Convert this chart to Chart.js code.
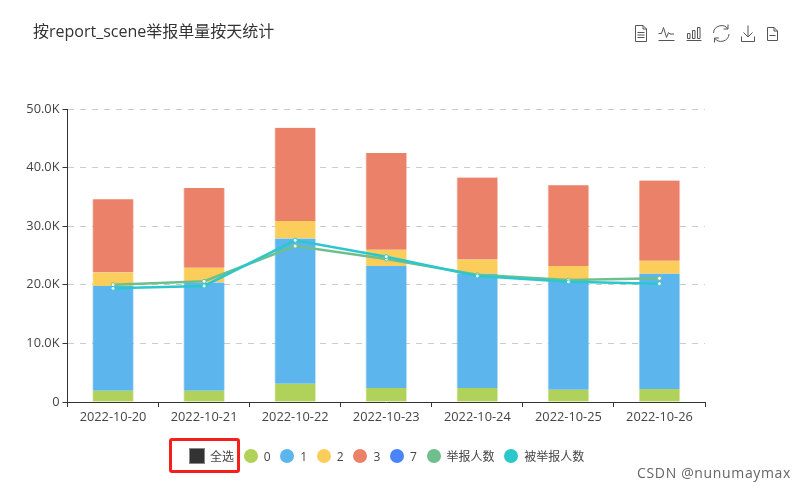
<!DOCTYPE html>
<html>
<head>
<meta charset="utf-8">
<title>按report_scene举报单量按天统计</title>
<script src="https://cdn.jsdelivr.net/npm/chart.js@4"></script>
<style>
  html, body { margin: 0; padding: 0; background: #fff; }
  body { width: 807px; height: 491px; position: relative; overflow: hidden; font-family: "Open Sans", "Noto Sans CJK SC", sans-serif; }
  #chart { position: absolute; left: 0; top: 0; }
  .title { position: absolute; left: 33px; top: 20px; font-size: 16px; line-height: 22px; color: #333; }
  .tools { position: absolute; left: 0; top: 0; }
  .legend { position: absolute; left: 189px; top: 447px; height: 18px; display: flex; align-items: center; font-size: 12px; color: #444; white-space: nowrap; }
  .legend .item { display: flex; align-items: center; margin-right: 9.7px; }
  .legend .dot { width: 14px; height: 14px; border-radius: 50%; margin-right: 6px; }
  .legend .all { width: 14px; height: 14px; background: #333; border: 1px solid #888; margin-right: 5px; }
  .redbox { position: absolute; left: 169px; top: 438px; width: 65px; height: 29px; border: 3px solid #f5201c; border-radius: 3px; }
  .mark { position: absolute; right: 16px; top: 464px; font-size: 14px; line-height: 18px; color: #666; letter-spacing: .65px; }
</style>
</head>
<body>
<canvas id="chart" width="807" height="491"></canvas>
<div class="title">按report_scene举报单量按天统计</div>

<!-- toolbox icons -->
<svg class="tools" width="807" height="60" fill="none" stroke="#555" stroke-width="1">
  <path d="M635.5 25.500h7.500l3.500 3.500v12.500h-11z M643 25.500v3.500h3.500 M637.500 32.500h7 M637.500 35h7 M637.500 37.500h7"/>
  <path d="M658.500 33.500h3l2-6 3 10 2-5 1.500 1.500h4 M658.500 40.500h16"/>
  <path d="M686.500 40.500h15 M687.500 38.500v-5h2.500v5z M692.500 38.500v-8h2.500v8z M697.500 38.500v-11h2.500v11z"/>
  <path d="M713.500 33a8 8 0 0 1 14.500 -4 M729 34a8 8 0 0 1 -14.500 4 M728 24.500v4.500h-4.500 M714.500 42.500v-4.500h4.500"/>
  <path d="M748 25.500v11.500 M743.500 32.500l4.500 4.500 4.500 -4.500 M741.500 36.500v5h13v-5"/>
  <path d="M767.500 27.500h6.500l3.500 3.500v9.500h-10z M774 27.500v3.500h3.500 M769.500 35.500h6"/>
</svg>

<div class="legend" id="legend"></div>
<div class="redbox"></div>
<div class="mark">CSDN @nunumaymax</div>

<script>
const days = ['2022-10-20','2022-10-21','2022-10-22','2022-10-23','2022-10-24','2022-10-25','2022-10-26'];

// stacked bars, by report_scene
const scene0 = [1900, 1900, 3100, 2400, 2400, 2100, 2200];
const scene1 = [17900, 18500, 24800, 20800, 19500, 18800, 19700];
const scene2 = [2300, 2500, 3000, 2800, 2400, 2300, 2200];
const scene3 = [12500, 13600, 15900, 16500, 14000, 13800, 13700];
const scene7 = [];

// lines
const reporters = [20000, 20600, 26600, 24400, 21700, 20800, 21100];
const reported = [19400, 19800, 27600, 24800, 21500, 20500, 20200];

const bar = (label, data, color) => ({
  type: 'bar', label, data, stack: 'scene', order: 3,
  backgroundColor: color, borderColor: color + '66',
  borderWidth: { left: 1, right: 1 }, barThickness: 41
});
const line = (label, data, color, order) => ({
  type: 'line', label, data, stack: label, order,
  borderColor: color, borderWidth: 2.5, tension: 0,
  pointRadius: 2, pointBorderWidth: 1,
  pointBackgroundColor: '#fff', pointBorderColor: color
});

const datasets = [
  bar('0', scene0, '#b0d25a'),
  bar('1', scene1, '#5cb5ec'),
  bar('2', scene2, '#fbcd5b'),
  bar('3', scene3, '#ec8169'),
  bar('7', scene7, '#4b84f8'),
  line('举报人数', reporters, '#6fbf8e', 2),
  line('被举报人数', reported, '#2cc7cc', 1)
];

const font = { family: '"Open Sans", "Noto Sans CJK SC", sans-serif', size: 12.8 };

new Chart(document.getElementById('chart'), {
  data: { labels: days, datasets },
  options: {
    responsive: false,
    animation: false,
    layout: { padding: { top: 109, right: 102, bottom: 0, left: 0 } },
    plugins: { legend: { display: false }, tooltip: { enabled: false }, title: { display: false } },
    scales: {
      x: {
        offset: true,
        afterFit(s) { s.height = 89; },
        border: { color: '#333', width: 1 },
        grid: { drawOnChartArea: false, drawTicks: true, tickLength: 5, tickColor: '#333' },
        ticks: { color: '#444', font, maxRotation: 0, autoSkip: false, padding: 3 }
      },
      y: {
        stacked: true,
        min: 0,
        max: 50000,
        afterFit(s) { s.width = 67.5; },
        border: { color: '#333', width: 1, dash: [6, 6] },
        grid: { color: '#ccc', tickColor: '#333', tickLength: 5, tickBorderDash: [] },
        ticks: {
          stepSize: 10000, color: '#444', font, padding: 3,
          callback: v => v === 0 ? '0' : (v / 1000).toFixed(1) + 'K'
        }
      }
    }
  }
});

// html legend
const legend = document.getElementById('legend');
legend.innerHTML = `<div class="item"><span class="all"></span>全选</div>` + datasets.map(d =>
  `<div class="item"><span class="dot" style="background:${d.type === 'bar' ? d.backgroundColor : d.borderColor}"></span>${d.label}</div>`
).join('');
</script>
</body>
</html>
